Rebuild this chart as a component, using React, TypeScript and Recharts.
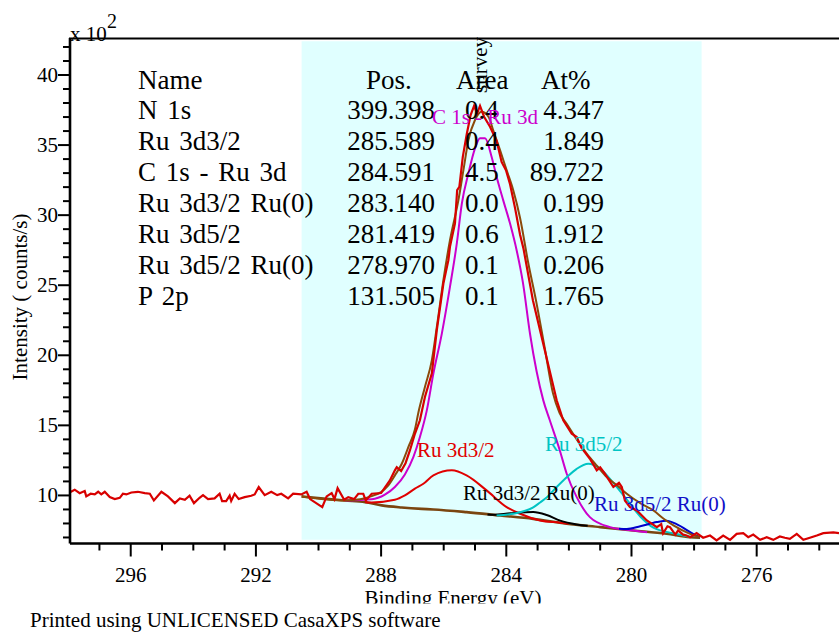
import {
  ComposedChart,
  Line,
  XAxis,
  YAxis,
  ReferenceArea,
} from "recharts";

// binding energy (eV), intensity (x 10^2 counts/s)
const rawSpectrum = [
  [298.0, 10.16], [297.79, 10.41], [297.63, 10.16], [297.47, 10.31], [297.42, 9.93],
  [297.28, 10.12], [297.15, 10.07], [297.04, 10.26], [296.94, 10.07], [296.83, 10.26],
  [296.67, 9.88], [296.51, 9.74], [296.35, 9.83], [296.25, 10.12], [296.14, 10.07],
  [295.98, 10.21], [295.77, 10.26], [295.55, 10.16], [295.39, 10.12], [295.26, 9.64],
  [295.02, 10.26], [294.81, 9.93], [294.59, 9.45], [294.43, 9.79], [294.27, 9.69],
  [294.12, 9.98], [293.98, 9.45], [293.8, 9.83], [293.69, 10.02], [293.53, 9.74],
  [293.32, 9.79], [293.16, 10.12], [293.08, 9.6], [292.95, 9.6], [292.84, 9.98],
  [292.79, 9.6], [292.68, 10.12], [292.55, 9.74], [292.36, 9.88], [292.15, 9.98],
  [292.04, 10.07], [291.91, 10.6], [291.72, 10.02], [291.51, 10.26], [291.32, 10.02],
  [291.19, 10.12], [290.97, 9.79], [290.81, 10.12], [290.55, 10.07], [290.38, 10.26],
  [290.27, 9.74], [289.88, 9.17], [289.74, 9.93], [289.58, 10.17], [289.49, 9.74],
  [289.39, 10.52], [289.18, 9.69], [289.05, 9.88], [288.86, 9.74], [288.73, 10.12],
  [288.57, 10.12], [288.49, 9.64], [288.3, 10.12], [288.0, 10.17], [287.87, 10.6],
  [287.72, 11.07], [287.56, 11.79], [287.5, 12.02], [287.36, 11.74], [287.22, 12.3],
  [287.08, 13.21], [286.92, 14.4], [286.76, 15.36], [286.6, 17.02], [286.38, 18.69],
  [286.22, 21.79], [286.01, 25.12], [285.85, 26.79], [285.8, 27.74], [285.64, 29.41],
  [285.57, 31.79], [285.5, 32.02], [285.39, 34.16], [285.26, 35.83], [285.14, 37.14],
  [285.03, 37.79], [284.93, 37.26], [284.84, 37.79], [284.71, 37.02], [284.52, 36.31],
  [284.31, 35.3], [284.15, 33.8], [284.01, 33.2], [283.88, 32.2], [283.72, 30.5],
  [283.56, 28.6], [283.45, 27.6], [283.15, 23.93], [282.77, 20.36], [282.39, 16.79],
  [282.18, 15.36], [281.91, 14.4], [281.75, 14.17], [281.6, 13.4], [281.33, 12.62],
  [281.11, 11.79], [281.0, 12.0], [280.85, 11.55], [280.58, 10.6], [280.4, 10.9],
  [280.31, 10.6], [280.21, 9.64], [280.05, 9.17], [279.83, 8.93], [279.51, 8.21],
  [279.19, 7.74], [279.05, 7.95], [278.99, 7.3], [278.85, 7.8], [278.77, 7.74],
  [278.6, 7.2], [278.51, 7.5], [278.35, 7.2], [278.24, 7.14], [278.13, 7.02],
  [277.92, 7.31], [277.71, 6.98], [277.49, 7.14], [277.28, 6.79], [277.07, 7.14],
  [276.85, 6.83], [276.64, 7.26], [276.43, 7.31], [276.27, 7.02], [276.11, 7.21],
  [275.89, 6.83], [275.68, 7.02], [275.47, 6.83], [275.26, 7.07], [275.1, 6.98],
  [274.94, 6.9], [274.72, 7.26], [274.51, 6.83], [274.3, 6.98], [274.08, 7.14],
  [273.87, 7.31], [273.55, 7.36], [273.37, 7.31],
];

const envelope = [
  [290.54, 9.93], [289.15, 9.64], [288.67, 9.72], [288.3, 9.95], [288.0, 10.24],
  [287.77, 10.71], [287.56, 11.43], [287.34, 12.26], [287.13, 13.45], [286.92, 14.7],
  [286.81, 15.9], [286.6, 17.74], [286.38, 19.64], [286.22, 22.02], [286.01, 25.36],
  [285.8, 28.21], [285.53, 31.07], [285.37, 33.21], [285.21, 35.36], [285.0, 36.79],
  [284.79, 37.38], [284.57, 37.02], [284.42, 36.07], [284.2, 34.64], [283.99, 33.21],
  [283.78, 31.79], [283.56, 29.8], [283.3, 26.6], [283.05, 23.9], [282.77, 20.5],
  [282.51, 17.3], [282.3, 15.9], [282.07, 15.12], [281.75, 14.0], [281.43, 12.98],
  [281.1, 12.1], [280.79, 11.31], [280.45, 10.7], [280.15, 10.12], [279.72, 9.45],
  [279.3, 8.93], [278.95, 8.3], [278.66, 7.86], [278.13, 7.26], [277.81, 7.02],
];

const background = [
  [290.54, 9.93], [289.15, 9.64], [288.51, 9.52], [287.98, 9.29], [287.34, 9.14],
  [286.7, 9.04], [286.33, 9.0], [285.27, 8.81], [284.2, 8.57], [283.14, 8.33],
  [282.07, 7.98], [281.0, 7.74], [279.94, 7.5], [278.88, 7.26], [278.13, 7.02],
  [277.81, 6.98],
];

const c1sRu3d = [
  [289.15, 9.64], [288.3, 9.72], [287.88, 10.05], [287.56, 10.6], [287.24, 11.5],
  [286.97, 12.74], [286.76, 14.17], [286.54, 16.07], [286.33, 18.69], [286.06, 21.55],
  [285.8, 24.88], [285.58, 28.0], [285.42, 30.83], [285.21, 32.98], [285.0, 34.76],
  [284.84, 35.48], [284.68, 35.48], [284.47, 34.17], [284.31, 32.74], [284.1, 31.07],
  [283.88, 29.4], [283.67, 27.5], [283.47, 25.2], [283.24, 21.5], [282.82, 16.8],
  [282.61, 15.36], [282.29, 13.21], [282.07, 11.55], [281.75, 9.88], [281.33, 8.45],
  [280.69, 7.74], [280.15, 7.55], [279.5, 7.38],
];

const ru3d32 = [
  [288.51, 9.52], [288.3, 9.5], [287.56, 9.69], [287.24, 10.0], [286.92, 10.48],
  [286.65, 10.83], [286.33, 11.43], [285.74, 11.79], [285.27, 11.43], [284.63, 10.36],
  [283.99, 9.17], [283.56, 8.69], [282.92, 8.21], [282.28, 8.05], [282.0, 7.97],
];

const ru3d32Ru0 = [
  [284.6, 8.64], [284.42, 8.62], [283.88, 8.72], [283.14, 8.81], [282.71, 8.6],
  [282.28, 8.2], [281.75, 7.93], [281.4, 7.83],
];

const ru3d52 = [
  [284.31, 8.57], [283.56, 8.8], [283.14, 9.15], [282.92, 9.5], [282.71, 9.85],
  [282.39, 10.6], [282.07, 11.3], [281.75, 11.9], [281.38, 12.26], [281.0, 11.9],
  [280.58, 10.9], [280.15, 9.7], [279.72, 8.5], [279.3, 7.7], [278.66, 7.3],
  [278.13, 7.05],
];

const ru3d52Ru0 = [
  [280.4, 7.62], [280.15, 7.6], [279.72, 7.8], [279.19, 8.1], [278.88, 8.2],
  [278.56, 7.95], [278.03, 7.26], [277.81, 7.0],
];

// quantification table
const tableNames = [
  "N 1s", "Ru 3d3/2", "C 1s - Ru 3d", "Ru 3d3/2 Ru(0)",
  "Ru 3d5/2", "Ru 3d5/2 Ru(0)", "P 2p",
];
const tablePos = ["399.398", "285.589", "284.591", "283.140", "281.419", "278.970", "131.505"];
const tableArea = ["0.4", "0.4", "4.5", "0.0", "0.6", "0.1", "0.1"];
const tableAt = ["4.347", "1.849", "89.722", "0.199", "1.912", "0.206", "1.765"];

const xTicks = [274, 275, 276, 277, 278, 279, 280, 281, 282, 283, 284, 285, 286,
  287, 288, 289, 290, 291, 292, 293, 294, 295, 296, 297];
const yTicks = [7, 8, 9, 10, 11, 12, 13, 14, 15, 16, 17, 18, 19, 20, 21, 22, 23, 24,
  25, 26, 27, 28, 29, 30, 31, 32, 33, 34, 35, 36, 37, 38, 39, 40, 41, 42];

const FONT = "'Liberation Serif', 'Times New Roman', serif";

const toPts = (arr: number[][]) => arr.map(([e, v]) => ({ e, v }));

const XTick = (props: any) => {
  const { x, y, payload } = props;
  const major = payload.value % 4 === 0;
  return (
    <g>
      <line x1={x} x2={x} y1={y} y2={y + (major ? 13 : 7)} stroke="#000" strokeWidth={2} />
      {major && (
        <text x={x} y={y + 38.5} textAnchor="middle" fontSize={21} fontFamily={FONT} fill="#000">
          {payload.value}
        </text>
      )}
    </g>
  );
};

const YTick = (props: any) => {
  const { x, y, payload } = props;
  const major = payload.value % 5 === 0;
  return (
    <g>
      <line x1={x} x2={x - (major ? 12 : 7)} y1={y} y2={y} stroke="#000" strokeWidth={2} />
      {major && (
        <text x={x - 12} y={y + 7} textAnchor="end" fontSize={21} fontFamily={FONT} fill="#000">
          {payload.value}
        </text>
      )}
    </g>
  );
};

const series = [
  { name: "background", data: background, color: "#7a4510", width: 2.6 },
  { name: "c1s", data: c1sRu3d, color: "#cc00cc", width: 2 },
  { name: "ru3d32", data: ru3d32, color: "#e00000", width: 2 },
  { name: "ru3d32ru0", data: ru3d32Ru0, color: "#000000", width: 2 },
  { name: "ru3d52", data: ru3d52, color: "#00c4c4", width: 2 },
  { name: "ru3d52ru0", data: ru3d52Ru0, color: "#0000cc", width: 2 },
  { name: "envelope", data: envelope, color: "#8b4a0a", width: 2 },
];

export default function App() {
  const rowY = (i: number) => 88.5 + i * 30.9;
  return (
    <div style={{ position: "absolute", left: 0, top: 0, width: 839, height: 632, background: "#fff" }}>
      <ComposedChart
        width={839}
        height={632}
        margin={{ top: 38, right: 0, bottom: 48.5, left: 0 }}
      >
        <XAxis
          dataKey="e"
          type="number"
          domain={[273.37, 297.94]}
          reversed
          allowDataOverflow
          ticks={xTicks}
          interval={0}
          tick={<XTick />}
          tickLine={false}
          tickSize={0}
          tickMargin={0}
          height={40}
          axisLine={{ stroke: "#000", strokeWidth: 2.6 }}
        />
        <YAxis
          type="number"
          domain={[6.57, 42.64]}
          allowDataOverflow
          ticks={yTicks}
          interval={0}
          tick={<YTick />}
          tickLine={false}
          tickSize={0}
          tickMargin={0}
          width={70}
          axisLine={{ stroke: "#000", strokeWidth: 2.6 }}
        />
        <ReferenceArea
          x1={277.76}
          x2={290.54}
          y1={6.84}
          y2={42.4}
          fill="#e0ffff"
          fillOpacity={1}
          stroke="none"
        />
        {series.map((s) => (
          <Line
            key={s.name}
            data={toPts(s.data)}
            dataKey="v"
            type="monotone"
            stroke={s.color}
            strokeWidth={s.width}
            dot={false}
            isAnimationActive={false}
          />
        ))}
        <Line
          data={toPts(rawSpectrum)}
          dataKey="v"
          type="linear"
          stroke="#d80000"
          strokeWidth={2.2}
          dot={false}
          isAnimationActive={false}
        />
      </ComposedChart>
      <svg
        width={839}
        height={632}
        style={{ position: "absolute", left: 0, top: 0, pointerEvents: "none" }}
        fontFamily={FONT}
      >
        <defs>
          <clipPath id="xtitleClip">
            <rect x={0} y={560} width={839} height={43.5} />
          </clipPath>
        </defs>
        <line x1={69} x2={839} y1={38.5} y2={38.5} stroke="#000" strokeWidth={2} />
        <text x={70} y={41} fontSize={21} fill="#000">x 10</text>
        <text x={107} y={28} fontSize={20} fill="#000">2</text>
        <text
          transform="translate(27,297) rotate(-90)"
          textAnchor="middle"
          fontSize={21}
          fill="#000"
        >
          Intensity ( counts/s)
        </text>
        <text x={453} y={605} textAnchor="middle" fontSize={21} fill="#000" clipPath="url(#xtitleClip)">
          Binding Energy (eV)
        </text>
        <text x={30} y={626.5} fontSize={21} fill="#000">
          Printed using UNLICENSED CasaXPS software
        </text>
        <text transform="translate(487,65) rotate(-90)" textAnchor="middle" fontSize={21} fill="#000">
          survey
        </text>

        <g fontSize={27} fill="#000">
          <text x={138} y={rowY(0)}>Name</text>
          <text x={366} y={rowY(0)}>Pos.</text>
          <text x={456} y={rowY(0)}>Area</text>
          <text x={541} y={rowY(0)}>At%</text>
          {tableNames.map((n, i) => (
            <g key={n}>
              <text x={138} y={rowY(i + 1)} wordSpacing={3}>{n}</text>
              <text x={435} y={rowY(i + 1)} textAnchor="end">{tablePos[i]}</text>
              <text x={465} y={rowY(i + 1)}>{tableArea[i]}</text>
              <text x={604} y={rowY(i + 1)} textAnchor="end">{tableAt[i]}</text>
            </g>
          ))}
        </g>

        <g fontSize={21}>
          <text x={485} y={124} textAnchor="middle" fill="#cc00cc">C 1s - Ru 3d</text>
          <text x={417} y={457} fill="#e00000">Ru 3d3/2</text>
          <text x={545} y={451} fill="#00c4c4">Ru 3d5/2</text>
          <text x={463} y={500} fill="#000">Ru 3d3/2 Ru(0)</text>
          <text x={594} y={511} fill="#1010c8">Ru 3d5/2 Ru(0)</text>
        </g>
      </svg>
    </div>
  );
}
